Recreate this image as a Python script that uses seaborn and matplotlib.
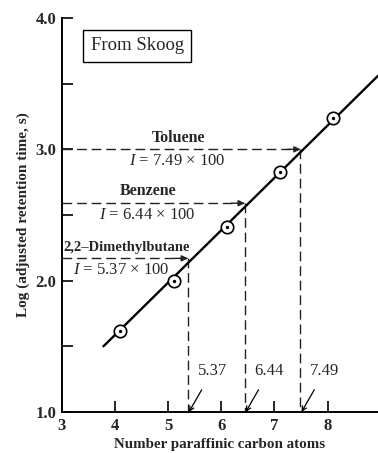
import matplotlib
matplotlib.use("Agg")
import matplotlib.pyplot as plt
import seaborn as sns
import numpy as np

# ---- data ----
carbon_atoms = [4.1, 5.1, 6.1, 7.1, 8.1]
log_tr = [1.62, 2.00, 2.41, 2.83, 3.24]
fit_x = [3.78, 8.95]
fit_y = [1.50, 3.56]
compounds = ["Toluene", "Benzene", "2,2\u2013Dimethylbutane"]
index_x = [7.49, 6.44, 5.37]
index_y = [3.00, 2.59, 2.17]
index_labels = ["7.49", "6.44", "5.37"]
x_ticks = [3, 4, 5, 6, 7, 8]
y_ticks = [1.0, 2.0, 3.0, 4.0]
y_minor = [1.5, 2.5, 3.5]

sns.set_style("ticks")
plt.rcParams['font.family'] = ['Liberation Serif', 'DejaVu Serif']
plt.rcParams['mathtext.fontset'] = 'custom'
plt.rcParams['mathtext.rm'] = 'Liberation Serif'
plt.rcParams['mathtext.it'] = 'Liberation Serif:italic'

fig = plt.figure(figsize=(3.78, 4.53), dpi=100)
ax = fig.add_axes([0.164, 0.0905, 0.836, 0.8697])

dash_kw = dict(color="#222222", lw=1.0, ls=(0, (7, 3.5)))

# dashed guides
for cx, cy in zip(index_x, index_y):
    ax.plot([3, cx - 0.02], [cy, cy], **dash_kw, zorder=2)
    ax.annotate("", xy=(cx, cy), xytext=(cx - 0.25, cy),
                arrowprops=dict(arrowstyle="-|>", color="#222222", lw=1.0,
                                mutation_scale=9, shrinkA=0, shrinkB=0), zorder=2)
    ax.plot([cx, cx], [cy, 1.0], **dash_kw, zorder=2)

# fitted line and points
sns.lineplot(x=fit_x, y=fit_y, ax=ax, color="black", lw=1.7, zorder=3)
sns.scatterplot(x=carbon_atoms, y=log_tr, ax=ax, s=80, marker="o",
                facecolor="white", edgecolor="black", linewidth=1.2, zorder=4)
sns.scatterplot(x=carbon_atoms, y=log_tr, ax=ax, s=6, marker="o",
                color="black", edgecolor="black", linewidth=0, zorder=5)

# compound labels
name_pos = [(5.20, 3.09), (4.62, 2.68), (4.22, 2.25)]
name_size = [11.5, 11.5, 10.5]
idx_pos = [(5.16, 2.91), (4.60, 2.50), (4.11, 2.08)]
for name, lab, (nx, ny), (ix, iy), fs in zip(compounds, index_labels, name_pos, idx_pos, name_size):
    ax.text(nx, ny, name, ha="center", va="center", fontsize=fs, fontweight="bold")
    ax.text(ix, iy, "$I$ = " + lab + " \u00d7 100", ha="center", va="center", fontsize=12)

# arrows to axis
for cx, lab in zip(index_x, index_labels):
    ax.annotate(lab, xy=(cx + 0.02, 1.0), xytext=(cx + 0.46, 1.31),
                ha="center", va="center", fontsize=12,
                arrowprops=dict(arrowstyle="->", color="black", lw=0.9,
                                shrinkA=6, shrinkB=0, mutation_scale=8))

# box
ax.text(4.42, 3.79, "From Skoog", ha="center", va="center", fontsize=13.5,
        bbox=dict(boxstyle="square,pad=0.4", fc="white", ec="black", lw=1.0))

ax.set_xlim(3, 8.95)
ax.set_ylim(1.0, 4.0)
ax.set_xticks(x_ticks)
ax.set_xticklabels([str(t) for t in x_ticks], fontweight="bold", fontsize=12)
ax.set_yticks(y_ticks)
ax.set_yticklabels(["%.1f" % t for t in y_ticks], fontweight="bold", fontsize=12)
ax.set_yticks(y_minor, minor=True)
ax.tick_params(axis="both", which="both", direction="in", length=8, width=1.2,
               color="black", pad=4)
sns.despine(ax=ax)
for s in ["left", "bottom"]:
    ax.spines[s].set_linewidth(1.4)
    ax.spines[s].set_color("black")
ax.set_xlabel("Number paraffinic carbon atoms", fontweight="bold", fontsize=10.8, labelpad=3)
ax.set_ylabel("Log (adjusted retention time, s)", fontweight="bold", fontsize=11, labelpad=4)
ax.grid(False)

fig.savefig("out.png", dpi=100)
